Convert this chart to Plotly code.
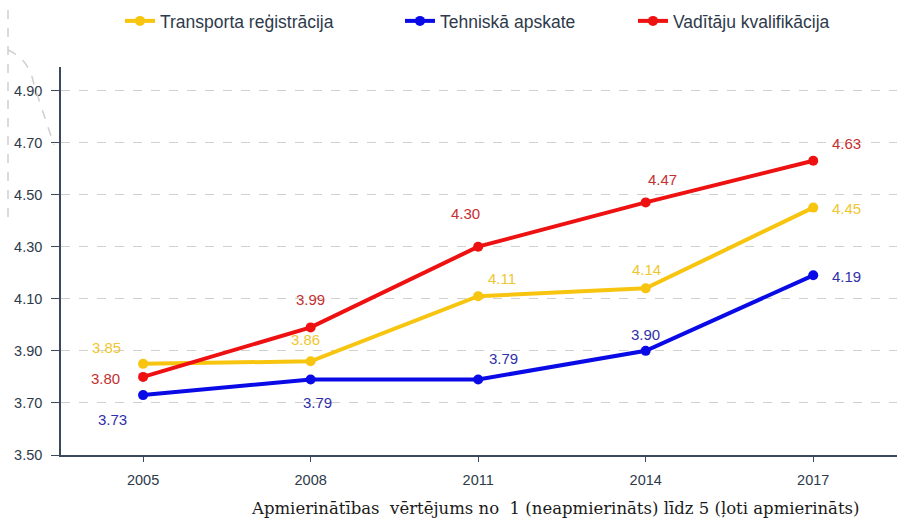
import plotly.graph_objects as go

years = ["2005", "2008", "2011", "2014", "2017"]
transport = [3.85, 3.86, 4.11, 4.14, 4.45]
tehniska = [3.73, 3.79, 3.79, 3.90, 4.19]
vaditaju = [3.80, 3.99, 4.30, 4.47, 4.63]
series_names = ["Transporta reģistrācija", "Tehniskā apskate", "Vadītāju kvalifikācija"]
y_ticks = [3.50, 3.70, 3.90, 4.10, 4.30, 4.50, 4.70, 4.90]
x_title = "Apmierinātības  vērtējums no  1 (neapmierināts) līdz 5 (ļoti apmierināts)"

line_colors = ["#F7C510", "#0A0AE6", "#EE1111"]
label_colors = ["#F0C630", "#3030A8", "#C43030"]

# label offsets (pixels, dx right, dy down) per series / point
offsets = [
    [(-37, -16), (-5, -22), (24, -18), (1, -19), (33, 1)],
    [(-31, 24), (7, 23), (25, -21), (0, -16), (33, 1)],
    [(-38, 2), (0, -28), (-13, -33), (17, -23), (33, -17)],
]

W, H = 897, 522
L, R, T, B = 61, 0, 67, 67

def px(x):
    return (x - L) / (W - L - R)

def py(y):
    return (H - B - y) / (H - T - B)

legend_ids = ["legend", "legend2", "legend3"]
legend_x = [120, 400, 633]

fig = go.Figure()
annotations = []
for name, vals, lc, tc, offs, lid in zip(series_names, [transport, tehniska, vaditaju],
                                         line_colors, label_colors, offsets, legend_ids):
    fig.add_trace(go.Scatter(
        x=list(range(len(years))), y=vals, name=name, mode="lines+markers",
        line=dict(color=lc, width=4), marker=dict(color=lc, size=10), legend=lid,
    ))
    for i, v in enumerate(vals):
        annotations.append(dict(
            x=i, y=v, xref="x", yref="y", text=f"{v:.2f}", showarrow=False,
            xshift=offs[i][0], yshift=-offs[i][1],
            font=dict(family="Liberation Sans, Arial", size=15, color=tc),
        ))

annotations.append(dict(
    x=px(862), y=py(508), xref="paper", yref="paper",
    xanchor="right", yanchor="middle", text=x_title, showarrow=False,
    font=dict(family="DejaVu Serif", size=16.5, color="#1a1a1a"),
))

shapes = [
    dict(type="line", xref="paper", yref="paper", x0=px(8), x1=px(8), y0=py(10), y1=py(225),
         line=dict(color="#cfcfcf", width=1.5, dash="dash")),
    dict(type="path", xref="paper", yref="paper",
         path=f"M {px(8)},{py(50)} Q {px(30)},{py(60)} {px(34)},{py(85)} L {px(54)},{py(145)}",
         line=dict(color="#cfcfcf", width=1.5, dash="dash")),
]

legend_common = dict(orientation="h", xanchor="left", y=py(21), yanchor="middle",
                     font=dict(size=17.5, color="#2e3a4a"), bgcolor="rgba(0,0,0,0)")

fig.update_layout(
    width=W, height=H,
    autosize=False,
    margin=dict(l=L, r=R, t=T, b=B, autoexpand=False),
    plot_bgcolor="white", paper_bgcolor="white",
    font=dict(family="Liberation Sans, Arial", size=14.5, color="#2e3a4a"),
    showlegend=True,
    legend=dict(x=px(legend_x[0]), **legend_common),
    legend2=dict(x=px(legend_x[1]), **legend_common),
    legend3=dict(x=px(legend_x[2]), **legend_common),
    annotations=annotations,
    shapes=shapes,
    xaxis=dict(
        tickmode="array", tickvals=list(range(len(years))), ticktext=years,
        range=[-0.49, 4.5], showgrid=False, showline=True, linecolor="#3a4a5c", linewidth=1.5,
        ticks="outside", ticklen=5, tickcolor="#3a4a5c", zeroline=False,
        tickfont=dict(size=14.5, color="#2e3a4a"), ticklabelstandoff=6, automargin=False,
    ),
    yaxis=dict(
        tickmode="array", tickvals=y_ticks, ticktext=[f"{t:.2f}" for t in y_ticks],
        range=[3.5, 4.99], showgrid=True, gridcolor="#d0d0d0", griddash="dash", gridwidth=1,
        showline=True, linecolor="#3a4a5c", linewidth=1.5,
        ticks="outside", ticklen=8, tickcolor="#3a4a5c", zeroline=False,
        tickfont=dict(size=14.5, color="#2e3a4a"), ticklabelstandoff=6, automargin=False,
    ),
)

fig.write_html("out.html", config={"responsive": False, "displayModeBar": False},
               post_script="document.body.style.margin='0';")
